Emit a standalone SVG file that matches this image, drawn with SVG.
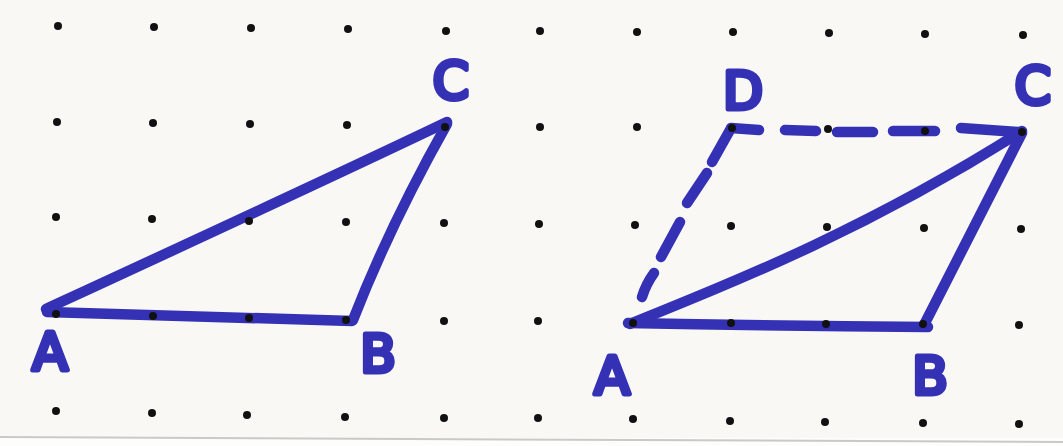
<svg xmlns="http://www.w3.org/2000/svg" width="1063" height="446" viewBox="0 0 1063 446">
<style>
.pen{fill:none;stroke:#3431b5;stroke-width:10.5;stroke-linecap:round;stroke-linejoin:round}
.lbl{font-family:"DejaVu Sans",sans-serif;font-size:52px;fill:#3431b5;stroke:#3431b5;stroke-width:5;stroke-linejoin:round;text-anchor:middle}
.dot{fill:#111}
</style>
<rect x="0" y="0" width="1063" height="446" fill="#fdfdfc"/>
<rect x="0" y="0" width="1063" height="438" fill="#f9f8f5"/>
<line x1="0" y1="437" x2="1063" y2="442" stroke="#c9c9c6" stroke-width="2"/>
<g id="left-figure">
<path class="pen" d="M46,309 C150,261 330,178 447,122"/>
<path class="pen" d="M47,312 Q200,316 352,321"/>
<path class="pen" d="M353,320 Q390,225 447,124"/>
<text class="lbl" x="50" y="370">A</text>
<text class="lbl" x="378" y="372">B</text>
<text class="lbl" x="451" y="99">C</text>
</g>
<g id="right-figure">
<path class="pen" d="M628,323 Q780,326 928,327"/>
<path class="pen" d="M630,324 C700,295 850,240 1022,131"/>
<path class="pen" d="M924,325 Q980,215 1022,133"/>
<g id="dashed">
<path class="pen" d="M642,297 Q646,284 654,273"/>
<path class="pen" d="M661,257 L680,222"/>
<path class="pen" d="M687,203 L707,173"/>
<path class="pen" d="M712,162 L730,130"/>
<path class="pen" d="M731,128 L759,130"/>
<path class="pen" d="M785,130 L816,131"/>
<path class="pen" d="M837,132 L873,132"/>
<path class="pen" d="M893,131 L935,131"/>
<path class="pen" d="M961,128 L1018,132"/>
</g>
<text class="lbl" x="612" y="394">A</text>
<text class="lbl" x="930" y="394">B</text>
<text class="lbl" x="1033" y="104">C</text>
<text class="lbl" x="743" y="109">D</text>
</g>
<g id="grid">
<circle class="dot" cx="58" cy="26" r="4"/><circle class="dot" cx="154" cy="27" r="4"/><circle class="dot" cx="251" cy="28" r="4"/><circle class="dot" cx="348" cy="29" r="4"/><circle class="dot" cx="446" cy="31" r="4"/>
<circle class="dot" cx="57" cy="122" r="4"/><circle class="dot" cx="153" cy="123" r="4"/><circle class="dot" cx="250" cy="124" r="4"/><circle class="dot" cx="347" cy="125" r="4"/><circle class="dot" cx="445" cy="127" r="4"/>
<circle class="dot" cx="56" cy="217" r="4"/><circle class="dot" cx="152" cy="219" r="4"/><circle class="dot" cx="249" cy="221" r="4"/><circle class="dot" cx="346" cy="222" r="4"/><circle class="dot" cx="444" cy="223" r="4"/>
<circle class="dot" cx="56" cy="314" r="4"/><circle class="dot" cx="153" cy="316" r="4"/><circle class="dot" cx="249" cy="318" r="4"/><circle class="dot" cx="346" cy="320" r="4"/><circle class="dot" cx="444" cy="321" r="4"/>
<circle class="dot" cx="56" cy="411" r="4"/><circle class="dot" cx="152" cy="413" r="4"/><circle class="dot" cx="247" cy="415" r="4"/><circle class="dot" cx="345" cy="417" r="4"/><circle class="dot" cx="444" cy="418" r="4"/>
<circle class="dot" cx="540" cy="31" r="4"/><circle class="dot" cx="637" cy="32" r="4"/><circle class="dot" cx="733" cy="32" r="4"/><circle class="dot" cx="829" cy="33" r="4"/><circle class="dot" cx="925" cy="34" r="4"/><circle class="dot" cx="1023" cy="35" r="4"/>
<circle class="dot" cx="540" cy="127" r="4"/><circle class="dot" cx="637" cy="127" r="4"/><circle class="dot" cx="732" cy="128" r="4"/><circle class="dot" cx="828" cy="129" r="4"/><circle class="dot" cx="925" cy="131" r="4"/><circle class="dot" cx="1022" cy="132" r="4"/>
<circle class="dot" cx="539" cy="224" r="4"/><circle class="dot" cx="635" cy="225" r="4"/><circle class="dot" cx="731" cy="226" r="4"/><circle class="dot" cx="827" cy="227" r="4"/><circle class="dot" cx="924" cy="228" r="4"/><circle class="dot" cx="1021" cy="229" r="4"/>
<circle class="dot" cx="538" cy="321" r="4"/><circle class="dot" cx="633" cy="323" r="4"/><circle class="dot" cx="731" cy="323" r="4"/><circle class="dot" cx="826" cy="324" r="4"/><circle class="dot" cx="923" cy="324" r="4"/><circle class="dot" cx="1019" cy="325" r="4"/>
<circle class="dot" cx="538" cy="418" r="4"/><circle class="dot" cx="633" cy="419" r="4"/><circle class="dot" cx="730" cy="421" r="4"/><circle class="dot" cx="825" cy="422" r="4"/><circle class="dot" cx="923" cy="423" r="4"/><circle class="dot" cx="1019" cy="424" r="4"/>
</g>
</svg>
